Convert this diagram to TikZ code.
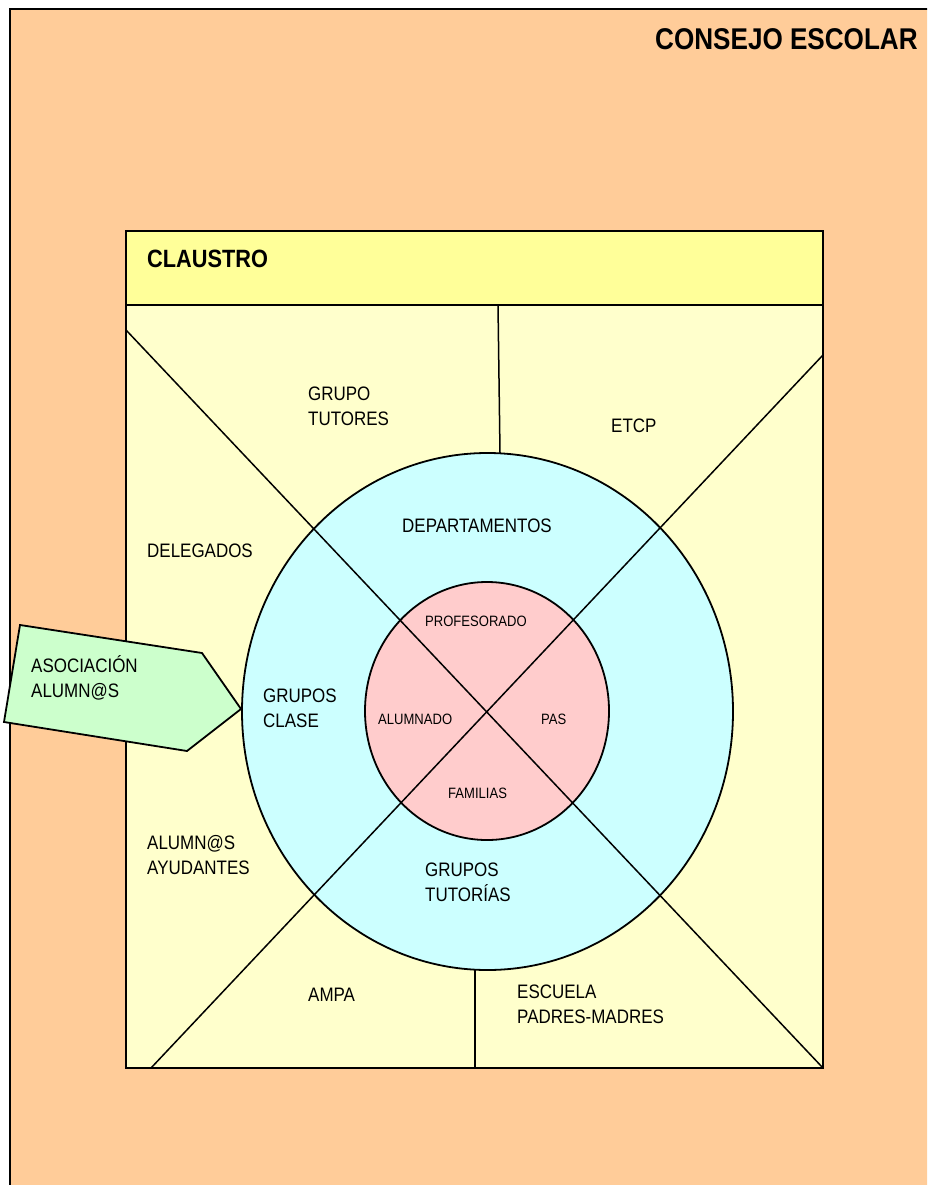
\documentclass[tikz,border=0pt]{standalone}
\usepackage{fontspec}
\setmainfont{Liberation Sans}[FakeStretch=0.87]
\definecolor{consejo}{HTML}{FFCC99}
\definecolor{claustro}{HTML}{FFFF99}
\definecolor{zona}{HTML}{FFFFCC}
\definecolor{depto}{HTML}{CCFFFF}
\definecolor{nucleo}{HTML}{FFCCCC}
\definecolor{asoc}{HTML}{CCFFCC}
\begin{document}
\begin{tikzpicture}[x=1pt,y=-1pt,
  lbl/.style={anchor=base west,inner sep=0pt,align=left,font=\fontsize{19.5}{25}\selectfont},
  small/.style={anchor=base west,inner sep=0pt,font=\fontsize{15}{18}\selectfont},
  titulo/.style={anchor=base west,inner sep=0pt,font=\bfseries\fontsize{#1}{#1}\selectfont},
  borde/.style={line width=1.8pt},
  linea/.style={line width=1.5pt}]
  \useasboundingbox (0,0) rectangle (927,1185);
  \fill[white] (0,0) rectangle (927,1185);
  \clip (0,0) rectangle (927,1185);
  % consejo escolar
  \filldraw[fill=consejo,line width=2pt] (10,9) rectangle (945,1200);
  % claustro
  \filldraw[fill=zona,borde] (126,231) rectangle (823,1068);
  \filldraw[fill=claustro,borde] (126,231) rectangle (823,305);
  \draw[linea] (498,305) -- (500,453);
  \draw[linea] (475,970) -- (475,1068);
  % circulos
  \filldraw[fill=depto,borde] (487.5,711.5) ellipse [x radius=245.5,y radius=258.5];
  \filldraw[fill=nucleo,borde] (487,711) ellipse [x radius=122,y radius=129];
  \draw[linea] (126,330) -- (823,1068);
  \draw[linea] (823,355) -- (151,1068);
  % asociacion
  \filldraw[fill=asoc,borde] (20,625) -- (202,653) -- (241,709) -- (187,751) -- (4,722) -- cycle;
  % textos (base = ultima linea)
  \node[titulo=30] (CE) at (655,50) {CONSEJO ESCOLAR};
  \node[titulo=25] (CL) at (147,267) {CLAUSTRO};
  \node[lbl] (GT) at (308,425) {GRUPO\\TUTORES};
  \node[lbl] (ET) at (611,432) {ETCP};
  \node[lbl] (DE) at (147,557) {DELEGADOS};
  \node[lbl] (DP) at (402,532) {DEPARTAMENTOS};
  \node[lbl] (AS) at (31,697) {ASOCIACIÓN\\ALUMN@S};
  \node[lbl] (GC) at (263,727) {GRUPOS\\CLASE};
  \node[small] (PR) at (425,626) {PROFESORADO};
  \node[small] (AL) at (378,724) {ALUMNADO};
  \node[small] (PA) at (541,724) {PAS};
  \node[small] (FA) at (448,798) {FAMILIAS};
  \node[lbl] (AY) at (147,874) {ALUMN@S\\AYUDANTES};
  \node[lbl] (TU) at (425,901) {GRUPOS\\TUTORÍAS};
  \node[lbl] (AM) at (308,1001) {AMPA};
  \node[lbl] (EP) at (517,1023) {ESCUELA\\PADRES-MADRES};
\end{tikzpicture}
\end{document}
